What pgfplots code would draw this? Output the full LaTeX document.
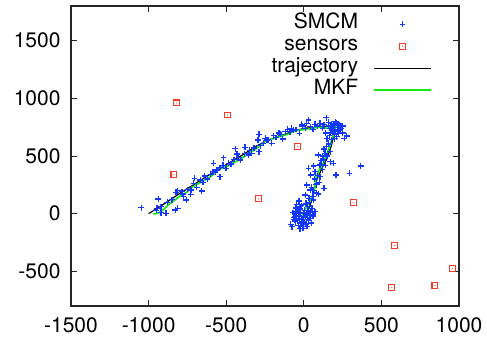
\documentclass[border=0pt]{standalone}
\usepackage{fontspec}
\setmainfont{TeX Gyre Heros}
\usepackage{pgfplots}
\pgfplotsset{compat=1.18}
\definecolor{smcmblue}{RGB}{20,55,255}
\definecolor{sensred}{RGB}{245,60,40}
\definecolor{mkfgreen}{RGB}{20,235,20}
\pgfdeclareplotmark{sqdot}{%
  \pgfpathrectangle{\pgfpoint{-\pgfplotmarksize}{-\pgfplotmarksize}}{\pgfpoint{2\pgfplotmarksize}{2\pgfplotmarksize}}%
  \pgfusepathqstroke
  \pgfpathcircle{\pgfpointorigin}{0.6pt}%
  \pgfusepathqfill
}
\begin{document}
\begin{tikzpicture}
\begin{axis}[
  at={(71pt,35pt)}, anchor=south west,
  scale only axis, width=388pt, height=300pt,
  xmin=-1500, xmax=1000, ymin=-800, ymax=1800,
  xtick={-1500,-1000,...,1000}, ytick={-500,0,...,1500},
  tick align=inside, major tick length=6pt,
  axis line style={line width=1.1pt, black!85},
  every tick/.style={line width=0.9pt, black!85},
  /pgf/number format/assume math mode=true,
  /pgf/number format/1000 sep={},
  tick label style={font=\fontsize{21}{25}\selectfont},
  yticklabel style={xshift=-7pt},
  xticklabel style={yshift=-8pt},
  legend plot pos=right,
  legend cell align=right,
  legend style={at={(1,1)}, anchor=north east, xshift=-27pt, yshift=-7pt,
    draw=none, fill=none, inner sep=0pt, column sep=15pt, row sep=0pt,
    font=\fontsize{21}{22}\selectfont,
    nodes={inner sep=0pt, text height=15.5pt, text depth=6.5pt}},
  legend image code/.code={\draw[mark repeat=2,mark phase=2,#1] plot coordinates {(0pt,0pt) (28.5pt,0pt) (57pt,0pt)};},
]
% SMCM
\addplot[only marks, mark=+, mark size=2.9pt, color=smcmblue, mark options={line width=1.3pt}] coordinates {
(-1047,52) (-938,127) (-946,46) (-921,9) (-888,3) (-828,32) (-813,46) (-824,185) (-813,199) (-785,191)
(-775,147) (-758,118) (-728,168) (-726,205) (-710,263) (-704,306) (-657,197) (-667,292) (-640,327) (-582,436)
(-586,364) (-539,321) (-560,379) (-517,486) (-502,393) (-485,436) (-442,564) (-431,517) (-410,465) (-378,575)
(-356,509) (-335,523) (-288,538) (-288,688) (-296,639) (-249,653) (-238,639) (-206,610) (-195,676) (-152,688)
(-135,647) (-105,731) (-88,711) (-67,725) (-28,696) (-13,775) (19,783) (30,812) (41,754) (73,775)
(105,783) (144,832) (159,792) (180,725) (202,798) (217,763) (234,725) (251,760) (260,653) (277,673)
(223,696) (212,668) (159,610) (148,581) (170,538) (137,523) (94,509) (127,465) (170,451) (191,436)
(208,335) (294,350) (367,413) (105,422) (62,413) (30,393) (73,364) (45,335) (105,321) (84,263)
(131,220) (19,249) (41,205) (9,162) (34,133) (62,118) (15,90) (-24,61) (52,46) (-45,3)
(-56,-26) (-34,-40) (-2,-26) (19,-12) (62,-20) (73,17) (-84,-92) (-77,-113) (-6,-127) (-13,-69)
(-67,-49)
(-60,-10) (-50,20) (-40,-60) (-30,-20) (-20,10) (-10,-80) (0,-50) (10,-30) (20,0) (30,-60)
(-45,-45) (-25,40) (5,30) (40,-40) (-55,-70) (15,-90) (-35,-100) (25,60) (-15,70) (45,20)
(50,-80) (-5,-110) (35,100) (-50,50) (60,-20) (10,80) (-30,110)
(-65,-30) (-35,0) (-15,-45) (5,-70) (25,-35) (-40,25) (-70,10) (0,5) (30,30) (-20,-100)
(-60,-55) (35,-10) (-25,-130) (55,10) (-45,80) (20,-110)
(60,150) (80,180) (50,230) (100,270) (90,330) (70,300) (120,380) (140,420) (110,460) (150,500)
(130,560) (160,600) (180,640) (200,690) (170,700) (220,720) (190,750) (240,740) (210,790) (160,760)
(180,780) (230,770) (250,700) (200,650) (150,650) (140,700) (120,740)
(195,770) (215,745) (225,780) (185,705) (205,710) (240,760) (175,760) (195,730) (165,680) (120,500)
(100,420) (80,250) (60,200) (95,170)
(-950,30) (-920,60) (-880,100) (-850,120) (-780,170) (-750,210) (-690,230) (-650,270) (-620,300) (-600,340)
(-570,360) (-540,400) (-520,420) (-470,430) (-450,470) (-420,490) (-380,520) (-350,550) (-320,570) (-280,590)
(-260,610) (-230,640) (-180,660) (-160,700) (-120,710) (-80,740) (-50,730) (-10,760) (10,740) (60,730)
(90,760) (130,770) (170,740)
};
\addlegendentry{SMCM}
% sensors
\addplot[only marks, mark=sqdot, mark size=2.9pt, color=sensred, mark options={line width=1.1pt}] coordinates {
(-820,960) (-490,855) (-837,338) (-292,130) (-39,584) (318,95) (586,-275) (567,-639) (845,-621) (957,-477)
};
\addlegendentry{sensors}
% trajectory
\addplot[black, line width=1.2pt, mark=none] coordinates {
(-1000,0) (-900,85) (-800,175) (-700,260) (-600,345) (-500,425) (-400,505) (-300,590) (-250,625) (-200,650)
(-100,700) (0,740) (100,752) (190,760) (195,700) (180,600) (150,480) (120,400) (85,300) (70,220)
(60,160) (40,70) (15,0) (-5,-40)
};
\addlegendentry{trajectory}
% MKF
\addplot[mkfgreen, line width=1.7pt, mark=none] coordinates {
(-970,-5) (-930,10) (-900,40) (-870,80) (-840,110) (-800,150) (-760,180) (-720,230) (-680,260) (-640,290)
(-600,320) (-560,370) (-520,400) (-480,420) (-440,450) (-400,480) (-360,520) (-320,550) (-280,590) (-250,630)
(-200,650) (-150,670) (-100,690) (-50,720) (0,730) (50,740) (100,750) (150,740) (180,745) (210,770)
(200,730) (190,680) (175,620) (160,560) (140,490) (125,440) (100,380) (80,320) (75,270) (65,200)
(55,150) (35,100) (20,60) (0,20) (-10,-30) (-20,-55)
};
\addlegendentry{MKF}
\end{axis}
\path (0,0) rectangle (487pt,341pt);
\end{tikzpicture}
\end{document}
